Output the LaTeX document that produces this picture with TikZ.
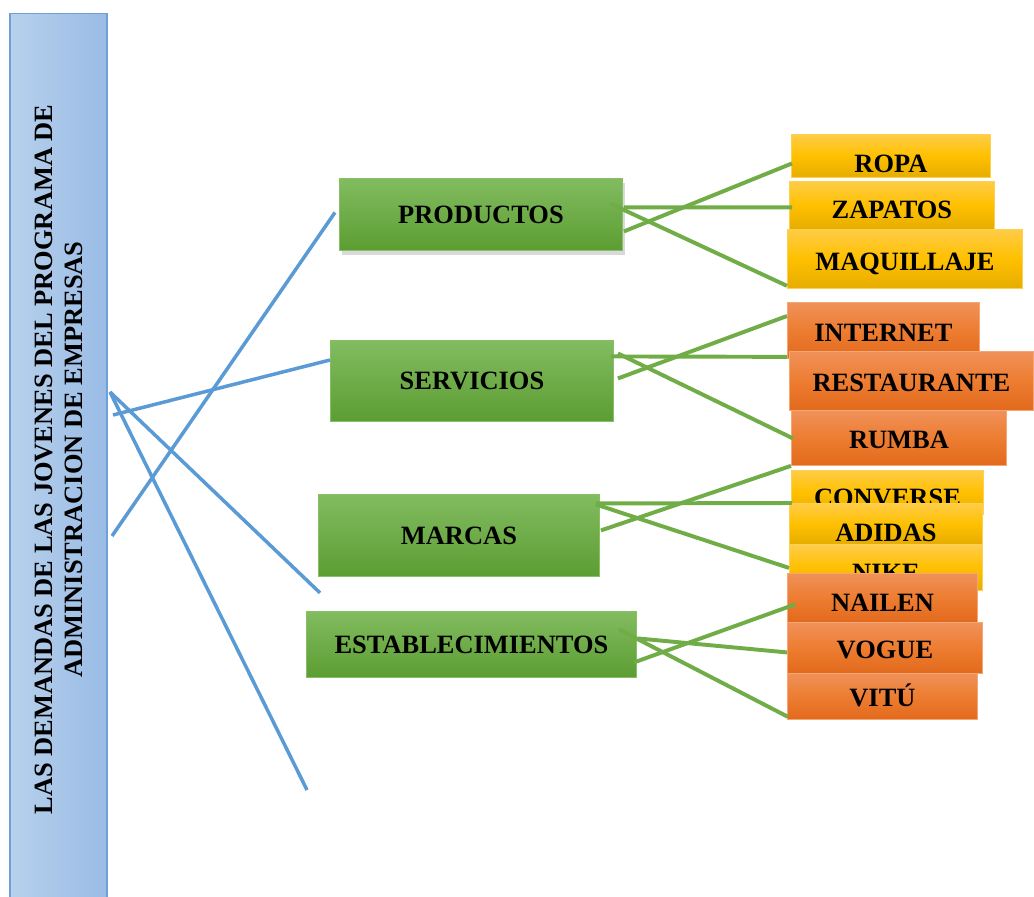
\documentclass[tikz,border=0pt]{standalone}
\usepackage{fontspec}
\setmainfont{Liberation Serif}
\usetikzlibrary{positioning,calc,shadows}

\definecolor{barclaro}{HTML}{B8D1EC}
\definecolor{baroscuro}{HTML}{99BBE5}
\definecolor{barborde}{HTML}{6E9FD6}
\definecolor{azullinea}{HTML}{5B9BD5}
\definecolor{verdearriba}{HTML}{82BC60}
\definecolor{verdeabajo}{HTML}{5C9D32}
\definecolor{verdeborde}{HTML}{86BF64}
\definecolor{verdelinea}{HTML}{70AD47}
\definecolor{oroarriba}{HTML}{FFCC47}
\definecolor{oromedio}{HTML}{FFC000}
\definecolor{oroabajo}{HTML}{E6AD00}
\definecolor{oroborde}{HTML}{FFD04F}
\definecolor{naranjaarriba}{HTML}{F0915A}
\definecolor{naranjamedio}{HTML}{ED7D31}
\definecolor{naranjaabajo}{HTML}{E2691C}
\definecolor{naranjaborde}{HTML}{F4A675}

\tikzset{
  caja/.style={rectangle, inner sep=0pt, anchor=north west,
    font=\bfseries\fontsize{18.8}{21.5}\selectfont},
  barra/.style={rectangle, inner sep=0pt, left color=barclaro, right color=baroscuro,
    draw=barborde, line width=0.8pt, font=\bfseries\fontsize{18.8}{21.3}\selectfont},
  ramo/.style={caja, top color=verdearriba, bottom color=verdeabajo,
    draw=verdeborde, line width=0.6pt, text height=12.5pt, text depth=0pt},
  oro/.style={caja, top color=oroarriba, bottom color=oroabajo, middle color=oromedio,
    draw=oroborde, line width=0.6pt},
  naranja/.style={caja, top color=naranjaarriba, bottom color=naranjaabajo, middle color=naranjamedio,
    draw=naranjaborde, line width=0.6pt},
  azul/.style={draw=azullinea, line width=2.5pt},
  verde/.style={draw=verdelinea, line width=2.8pt}
}

\begin{document}
\begin{tikzpicture}[x=0.025cm, y=-0.025cm]
        \useasboundingbox (0,0) rectangle (1034,896);

        % barra izquierda
        \node[barra, rotate=90, minimum width=22.275cm, minimum height=2.425cm, align=center] (demandas) at (58.5,459.5)
          {LAS DEMANDAS DE LAS JOVENES DEL PROGRAMA DE\\ADMINISTRACION DE EMPRESAS};

        % ramas
        \node[ramo, drop shadow={opacity=0.3, shadow xshift=2pt, shadow yshift=-3.5pt}, minimum width=7.075cm, minimum height=1.8cm] (productos) at (339,178) {PRODUCTOS};
        \node[ramo, minimum width=7.075cm, minimum height=2.025cm] (servicios) at (330,340) {SERVICIOS};
        \node[ramo, minimum width=7.025cm, minimum height=2.05cm] (marcas) at (318,494) {MARCAS};
        \node[ramo, minimum width=8.25cm, minimum height=1.65cm] (establecimientos) at (306,611) {ESTABLECIMIENTOS};

        % hojas
        \node[oro, minimum width=4.975cm, text height=0.95cm, text depth=0.125cm] (ropa) at (791,134) {ROPA};
        \node[oro, minimum width=5.125cm, text height=0.925cm, text depth=0.275cm] (zapatos) at (789,181) {ZAPATOS};
        \node[oro, minimum width=5.875cm, text height=1.025cm, text depth=0.45cm] (maquillaje) at (787,229) {MAQUILLAJE};
        \node[naranja, minimum width=4.8cm, text height=0.975cm, text depth=0.425cm] (internet) at (787,302) {INTERNET};
        \node[naranja, minimum width=6.1cm, text height=1cm, text depth=0.475cm] (restaurante) at (789,351) {RESTAURANTE};
        \node[naranja, minimum width=5.375cm, text height=0.95cm, text depth=0.425cm] (rumba) at (791,410) {RUMBA};
        \node[oro, minimum width=4.8cm, text height=0.9cm, text depth=0.2cm] (converse) at (791,470) {CONVERSE};
        \node[oro, minimum width=4.825cm, text height=0.95cm, text depth=0.075cm] (adidas) at (789,503) {ADIDAS};
        \node[oro, minimum width=4.825cm, text height=0.9cm, text depth=0.225cm] (nike) at (789,545) {NIKE};
        \node[naranja, minimum width=4.75cm, text height=0.95cm, text depth=0.275cm] (nailen) at (787,573) {NAILEN};
        \node[naranja, minimum width=4.875cm, text height=0.9cm, text depth=0.375cm] (vogue) at (787,622) {VOGUE};
        \node[naranja, minimum width=4.75cm, text height=0.825cm, text depth=0.325cm] (vitu) at (787,673) {VITÚ};

        % lineas azules
        \coordinate (nudo) at (110,392);
        \coordinate (inicio) at (113,415);
        \coordinate (inicio2) at (112,536);
        \coordinate (final) at (307,790);
        \draw[azul] (inicio) -- ($(servicios.north west)+(0,20)$);
        \draw[azul] (inicio2) -- ($(productos.west)+(-4,-2)$);
        \draw[azul] (nudo) -- ($(marcas.south west)+(2,16)$);
        \draw[azul] (nudo) -- (final);

        % lineas verdes
        \draw[verde] ($(productos.east)+(-13,-11)$) -- ($(maquillaje.south west)+(0,-3)$);
        \draw[verde] ($(productos.east)+(1,17)$) -- ($(ropa.west)+(1,7.5)$);
        \draw[verde] ($(productos.east)+(1,-7)$) -- ($(zapatos.west)+(3,2)$);

        \draw[verde] ($(servicios.east)+(-3,-24.5)$) -- ($(internet.south west)+(0,-2)$);
        \draw[verde] ($(servicios.east)+(4,-27.5)$) -- ($(rumba.west)+(2,0.5)$);
        \draw[verde] ($(servicios.east)+(4,-2.5)$) -- ($(internet.north west)+(0,14)$);

        \draw[verde] ($(marcas.east)+(-4,-32)$) -- ($(converse.north west)+(1,33)$);
        \draw[verde] ($(marcas.east)+(-4,-31)$) -- (nike.west);
        \draw[verde] ($(marcas.east)+(1,-5)$) -- (rumba.south west);

        \draw[verde] ($(establecimientos.east)+(-18,-15)$) -- ($(vitu.south west)+(1,-3)$);
        \draw[verde] ($(establecimientos.east)+(1,-6)$) -- ($(vogue.west)+(0,4.5)$);
        \draw[verde] ($(establecimientos.east)+(-3,18)$) -- ($(nailen.west)+(8,6.5)$);
\end{tikzpicture}
\end{document}
